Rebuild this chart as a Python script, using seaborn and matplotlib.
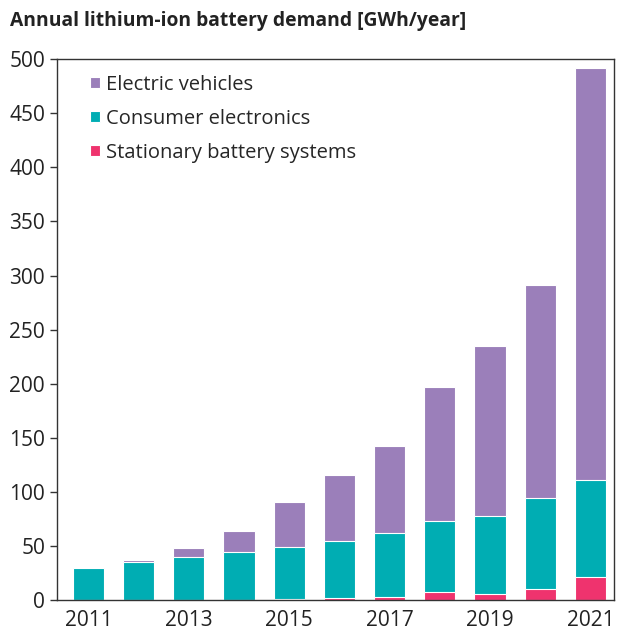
import matplotlib.pyplot as plt
import seaborn as sns

years = ['2011', '2012', '2013', '2014', '2015', '2016', '2017', '2018', '2019', '2020', '2021']
stationary = [0, 0, 0, 0, 1, 1.5, 3, 7, 6, 10, 21]
consumer = [30, 35, 40, 44, 48, 53.5, 59, 66, 72, 84, 90]
vehicles = [0, 2, 8, 20, 42, 61, 80, 124, 157, 197, 381]

sns.set_style('white')
plt.rcParams['font.family'] = ['Open Sans', 'DejaVu Sans']

# stacked by overlaying cumulative totals
cons_top = [s + c for s, c in zip(stationary, consumer)]
total = [t + v for t, v in zip(cons_top, vehicles)]

fig = plt.figure(figsize=(6.18, 6.30), dpi=100)
ax = fig.add_axes([0.092, 0.0476, 0.9015, 0.8584])

sns.barplot(x=years, y=total, color='#9b7fba', saturation=1, width=0.62,
            edgecolor='white', linewidth=0.8, label='Electric vehicles', ax=ax)
sns.barplot(x=years, y=cons_top, color='#00adb3', saturation=1, width=0.62,
            edgecolor='white', linewidth=0.8, label='Consumer electronics', ax=ax)
sns.barplot(x=years, y=stationary, color='#ef336e', saturation=1, width=0.62,
            edgecolor='white', linewidth=0.8, label='Stationary battery systems', ax=ax)

ax.set_ylim(0, 500)
ax.set_xlim(-0.63, 10.47)
ax.set_yticks(range(0, 501, 50))
ax.set_xticks(range(0, 11, 2))
ax.set_xticklabels(years[::2])
ax.set_xlabel('')
ax.set_ylabel('')
ax.tick_params(axis='y', length=5, width=1, color='#333333', labelsize=15, labelcolor='#222222', left=True)
ax.tick_params(axis='x', length=0, labelsize=15, labelcolor='#222222', pad=7.5)
for s in ax.spines.values():
    s.set_color('#333333')
    s.set_linewidth(1)

ax.legend(loc='upper left', bbox_to_anchor=(0.027, 1.005), frameon=False, fontsize=14.5,
          handlelength=0.5, handleheight=0.5, handletextpad=0.3, labelspacing=0.7)

fig.text(0.016, 0.966, 'Annual lithium-ion battery demand [GWh/year]', fontsize=13.9,
         fontweight='bold', color='#222222', ha='left', va='center')

plt.savefig('out.png', dpi=100)
